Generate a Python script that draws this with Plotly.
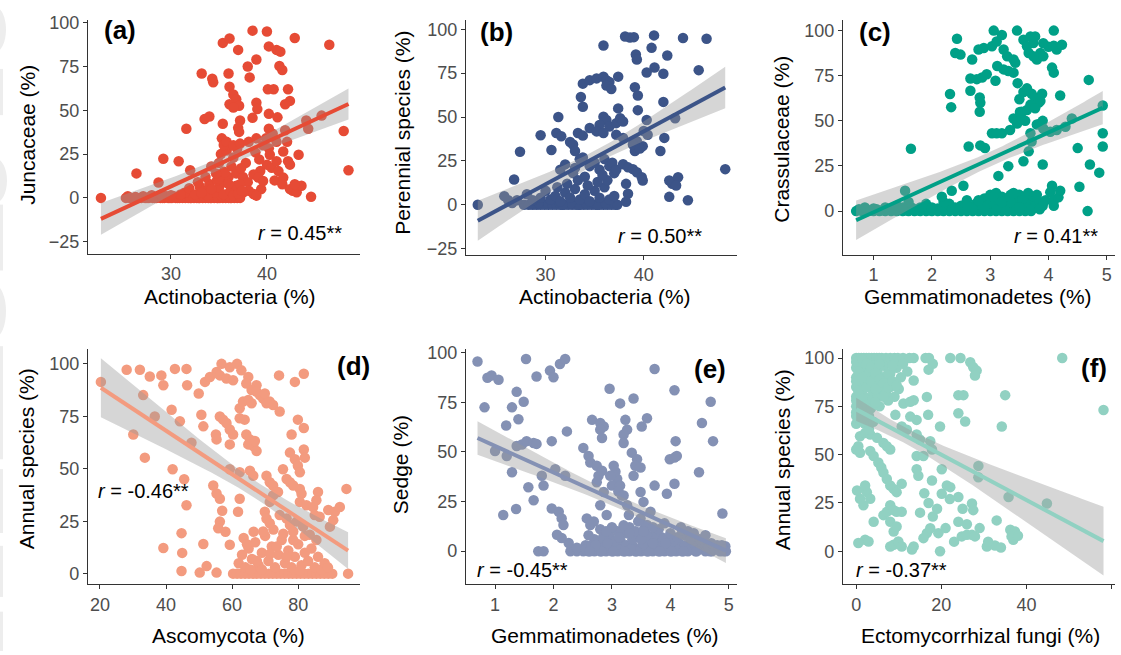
import numpy as np
import plotly.graph_objects as go

# ---------------- data ----------------
# (a) Actinobacteria (%) vs Juncaceae (%)
juncaceae_pts = [
    (22.7, 0), (25.3, 0), (25.7, 0), (26.1, 0), (26.5, 0), (26.9, 0), (27.3, 0), (27.7, 0), (28.1, 0),
    (28.5, 0), (28.9, 0), (29.3, 0), (29.7, 0), (30.1, 0), (30.5, 0), (30.9, 0), (31.2, 0), (31.5, 0),
    (31.8, 0), (32.1, 0), (32.4, 0), (32.7, 0), (33.0, 0), (33.3, 0), (33.6, 0), (33.9, 0), (34.2, 0),
    (34.5, 0), (34.8, 0), (35.1, 0), (35.4, 0), (35.7, 0), (36.0, 0), (36.3, 0), (36.6, 0), (36.9, 0), (37.2, 0),
    (25.5, 1), (26.3, 0.5), (27.1, 1), (27.5, 0), (27.9, 1), (28.3, 0), (28.7, 1), (29.1, 0), (29.5, 1),
    (29.9, 0), (30.3, 1), (30.7, 0), (31.1, 1), (31.6, 1), (32.0, 0), (32.3, 1), (32.9, 0), (33.4, 1),
    (33.7, 2), (34.1, 0), (34.4, 1), (34.9, 0), (35.3, 1), (35.8, 2), (36.2, 0),
    (31.4, 3), (31.9, 5.5), (32.5, 2), (33.0, 6.5), (33.5, 4), (34.0, 8), (34.5, 3), (35.0, 6), (35.5, 2),
    (33.8, 1.5), (34.8, 10), (35.6, 9), (36.2, 4), (31.0, 2), (32.8, 9), (36.8, 7), (37.5, 3), (30.0, 1.5),
    (29.0, 2), (28.0, 1.5), (33.2, 3), (34.2, 5), (36.5, 1.5), (37.0, 2.5),
    (36.0, 12), (35.5, 15), (36.3, 18), (35.0, 20), (35.2, 25), (36.8, 14), (37.5, 12), (37.8, 20),
    (36.5, 23), (35.8, 27), (34.2, 18), (33.6, 12), (35.0, 11), (35.6, 14.5), (36.9, 28), (37.3, 17),
    (34.7, 14), (36.0, 8), (38.0, 9), (39.4, 5), (38.8, 26), (39.2, 22), (39.6, 30), (40.8, 10),
    (33.2, 71), (34.3, 68), (34.4, 66), (33.5, 45), (34.0, 46.5), (35.4, 88.5), (36.1, 91), (37.0, 84.5),
    (38.5, 95.5), (40.0, 95), (40.2, 86.5), (41.0, 84.5), (41.4, 83.5), (42.9, 91.3), (46.5, 87.4),
    (38.9, 79), (38.0, 75), (38.2, 68.8), (36.0, 71), (36.1, 63.5), (36.5, 59), (36.8, 56.3), (37.1, 52.6),
    (36.1, 53.5), (36.5, 51.6), (38.9, 54.4), (39.0, 50.7), (38.5, 45.7), (37.2, 44.2), (37.0, 40),
    (37.1, 37.7), (35.4, 42.3), (35.3, 34), (35.5, 30.2), (35.8, 32), (36.5, 30), (37.2, 31), (38.1, 32),
    (38.9, 34), (40.1, 62), (40.7, 62), (41.3, 75.3), (41.6, 73), (42.2, 62), (42.4, 55.4), (41.9, 53.5),
    (40.2, 48), (41.1, 46), (40.2, 39.5), (40.6, 36.7), (41.0, 32), (39.9, 34), (41.9, 38.6), (42.1, 32),
    (41.7, 26.5), (42.2, 21), (42.4, 19), (43.3, 24.6), (40.2, 28.3), (40.3, 24.6), (40.0, 19), (40.5, 17.2),
    (39.3, 15.3), (38.6, 13.4), (39.1, 11.6), (39.6, 9.7), (41.0, 21), (41.2, 15.3), (41.7, 11.6),
    (41.6, 7.8), (42.4, 5), (42.7, 4.1), (43.1, 3.2), (43.6, 6.9), (42.9, 7.8), (44.6, 0.7), (44.1, 44.2),
    (44.3, 39.5), (45.7, 47), (48.0, 38.2), (48.5, 15.8), (26.4, 14), (29.2, 22.4), (28.7, 8.8),
    (30.8, 20.9), (31.6, 39.5), (32.0, 15.8), (38.1, 4.1), (38.6, 2.2), (38.9, 1.3), (37.2, 7.8), (37.4, 4.1),
]

# (b) Actinobacteria (%) vs Perennial species (%)
perennial_pts = [
    (23.1, 0), (28.7, 0), (29.1, 0), (29.5, 0), (29.9, 0), (30.3, 0), (30.7, 0), (31.1, 0), (31.5, 0),
    (31.9, 0), (32.3, 0), (32.7, 0), (33.1, 0), (33.5, 0), (33.9, 0), (34.3, 0), (34.7, 0), (35.1, 0),
    (35.5, 0), (35.9, 0), (36.3, 0), (36.7, 0), (37.1, 0), (37.3, 0),
    (27.8, 0), (28.3, 0), (26.6, 1), (29.3, 1), (33.4, 0), (34.1, 1), (35.3, 0), (36.1, 1), (32.6, 1), (31.7, 0),
    (30.5, 3), (31.0, 5), (31.5, 2), (32.0, 7), (32.5, 4), (33.0, 9), (33.5, 3), (34.0, 6), (34.5, 2),
    (35.0, 8), (35.5, 4), (36.0, 10), (36.5, 3), (37.0, 5), (31.2, 10), (32.2, 12), (33.3, 14), (34.3, 11),
    (35.3, 13), (36.3, 14), (30.0, 8), (29.5, 4), (28.1, 6), (28.7, 2.6), (26.2, 2.6), (27.1, 2.6),
    (25.8, 4.9), (26.8, 14.4),
    (31.5, 20), (32.0, 23), (32.8, 18), (33.5, 26), (34.5, 22), (35.0, 24), (35.5, 20), (36.0, 26),
    (36.5, 22), (37.0, 18), (34.0, 16), (33.0, 21), (35.8, 17), (36.8, 24), (37.2, 20),
    (27.4, 30.2), (29.5, 39.6), (30.6, 31.2), (31.3, 50), (31.1, 40.9), (31.6, 39), (32.5, 35.8),
    (32.8, 34.3), (33.0, 30.6), (33.3, 40.9), (33.8, 39.4), (33.6, 61.4), (33.8, 55.8), (33.8, 69),
    (34.5, 71), (35.2, 72), (35.9, 73), (36.2, 71), (36.5, 70), (37.4, 73), (36.2, 67.9), (36.7, 66),
    (35.9, 90.7), (38.1, 95.9), (38.6, 95.3), (39.0, 95.5), (39.2, 85.6), (39.3, 82.8), (41.05, 96.5),
    (40.8, 89.4), (41.1, 78.2), (40.3, 75.4), (42.0, 74.6), (42.4, 85), (44.0, 95), (46.4, 94.6),
    (45.6, 76.7), (39.1, 67), (39.4, 62.3), (39.4, 53.9), (37.4, 54.9), (35.9, 50.2), (36.2, 48.3),
    (35.5, 45.5), (36.5, 44.6), (37.2, 46.5), (37.6, 49.3), (37.9, 47.4), (34.5, 43.7), (35.2, 41.8),
    (35.9, 40.9), (37.2, 39.9), (37.9, 38.1), (42.0, 58.6), (42.1, 38.1), (41.7, 30.6), (40.3, 48.3),
    (40.4, 39.9), (39.9, 33.4), (39.1, 30.6), (39.3, 36.2), (38.9, 34.3), (37.9, 23.1), (38.4, 21.3),
    (38.9, 20.3), (39.3, 18.5), (39.8, 15.7), (39.9, 13.8), (38.2, 11.9), (38.4, 6.3), (38.2, 1.7),
    (42.6, 13.8), (42.9, 11.9), (43.5, 15.7), (43.3, 11), (42.6, 4.5), (44.5, 2.6), (48.3, 20.3),
    (43.2, 49.3), (33.5, 25.9), (33.8, 26.9), (40.0, 42), (39.6, 32),
]

# (c) Gemmatimonadetes (%) vs Crassulaceae (%)
crassulaceae_pts = [
    (0.7, 0), (0.8, 0), (0.9, 0), (1.0, 0), (1.1, 0), (1.2, 0), (1.3, 0), (1.4, 0), (1.5, 0), (1.6, 0),
    (1.7, 0), (1.8, 0), (1.9, 0), (2.0, 0), (2.1, 0), (2.2, 0), (2.3, 0), (2.4, 0), (2.5, 0), (2.6, 0),
    (2.7, 0), (2.8, 0), (2.9, 0), (3.0, 0), (3.1, 0), (3.2, 0), (3.3, 0), (3.4, 0), (3.5, 0), (3.6, 0), (3.7, 0),
    (0.75, 1), (0.85, 2), (0.95, 0.5), (1.05, 1), (1.15, 0.5), (1.25, 1), (1.35, 0.5), (1.45, 1),
    (1.55, 0.5), (1.65, 2), (1.75, 0.5), (1.85, 1), (1.95, 0.5), (2.05, 1), (2.15, 0.5), (2.25, 1),
    (1.4, 3), (1.6, 5), (1.8, 2), (1.9, 4), (2.1, 1.5), (2.5, 3), (2.6, 6), (2.75, 4), (2.9, 7), (3.0, 9),
    (3.05, 5), (3.1, 10), (3.15, 3), (3.2, 8), (3.25, 6), (3.3, 4), (3.35, 9), (3.4, 7), (3.45, 5),
    (3.5, 9), (3.55, 3), (3.6, 8), (3.65, 10), (3.7, 6), (3.75, 3), (3.8, 2), (3.0, 2), (2.95, 5),
    (3.35, 1.5), (1.0, 1.5), (1.2, 2),
    (2.2, 2), (2.3, 4), (2.45, 1), (2.65, 2), (2.85, 1), (2.95, 3), (3.05, 1), (3.1, 6), (3.2, 2),
    (3.3, 7), (3.4, 2), (3.5, 5), (3.6, 1.5), (3.7, 3), (3.75, 8), (3.85, 5), (3.6, 4), (3.45, 2),
    (3.25, 1), (3.15, 4), (2.7, 1), (2.55, 1), (2.35, 1), (1.7, 1), (1.5, 2), (3.8, 9), (3.9, 3),
    (3.95, 6), (3.55, 6), (3.65, 2), (3.0, 4), (2.9, 2), (2.8, 6), (3.1, 1), (3.35, 5), (3.5, 2),
    (3.7, 1), (3.85, 1), (2.6, 3), (2.4, 2), (3.2, 5), (3.4, 10), (3.05, 8), (2.2, 5), (2.0, 2),
    (1.54, 11.3), (1.64, 34.5), (2.17, 8), (2.34, 11.3), (2.31, 64.9), (2.33, 57.6), (2.43, 95.5),
    (2.4, 87.6), (2.49, 86.7), (2.54, 14), (2.63, 35.8), (2.66, 66.7), (2.66, 73.5), (2.77, 73.1),
    (2.86, 74), (2.69, 84), (2.8, 89.5), (2.89, 90.4), (2.82, 63), (2.83, 60), (2.82, 55), (2.83, 36.4),
    (2.91, 34.9), (2.94, 75.8), (3.03, 91.3), (3.11, 94), (3.2, 97.6), (3.06, 100), (3.09, 72.2),
    (3.12, 80.4), (3.23, 78.5), (3.31, 77.6), (3.4, 76.7), (3.23, 89.5), (3.29, 85.8), (3.4, 84),
    (3.43, 82.2), (3.14, 19.5), (3.03, 43.1), (3.11, 43.1), (3.2, 43.1), (3.31, 24.9), (3.34, 44.9),
    (3.46, 48.5), (3.4, 51.3), (3.47, 70.9), (3.46, 100), (3.57, 94.9), (3.69, 96.7), (3.63, 91.3),
    (3.74, 93.1), (3.66, 87.6), (3.74, 85.8), (3.8, 84), (3.77, 96.7), (3.91, 93), (4.0, 91),
    (4.09, 91.6), (4.14, 89.5), (4.23, 92.2), (3.86, 87.6), (3.91, 85.8), (4.09, 100), (4.06, 79.5),
    (4.09, 76.7), (4.2, 64), (3.5, 62), (3.57, 66), (3.63, 68), (3.71, 65), (3.77, 63), (3.83, 60),
    (3.69, 59), (3.63, 56), (3.54, 55), (3.77, 57), (3.86, 61), (3.89, 65), (3.51, 54.9), (3.54, 51.3),
    (3.6, 50), (3.57, 27.6), (3.66, 33.1), (3.69, 43.1), (3.71, 38.5), (3.9, 25.8), (3.86, 48.5),
    (3.91, 45.8), (4.03, 44), (4.14, 44.9), (4.29, 46.7), (4.4, 51.3), (4.5, 34.9), (4.71, 25.8),
    (4.53, 13.5), (4.67, 0), (4.69, 72.7), (4.87, 21.3), (4.93, 35.8), (4.93, 43.1), (4.93, 58.5),
    (4.06, 14), (4.03, 10.4), (4.09, 5.8), (4.17, 7.6), (4.2, 11.3), (4.09, 3), (3.9, 50), (3.8, 48),
]

# (d) Ascomycota (%) vs Annual species (%)
annual_asco_pts = [
    (60.3, 0), (61.5, 0), (62.7, 0), (63.9, 0), (65.1, 0), (66.3, 0), (67.5, 0), (68.7, 0), (69.9, 0),
    (71.1, 0), (72.3, 0), (73.5, 0), (74.7, 0), (75.9, 0), (77.1, 0), (78.3, 0), (79.5, 0), (80.7, 0),
    (81.9, 0), (83.1, 0), (84.3, 0), (85.5, 0), (86.7, 0), (87.9, 0), (89.1, 0), (90.3, 0), (95.1, 0),
    (50.2, 0.5), (52.3, 3.6), (55.3, 0.5), (44.7, 1.3),
    (62, 5), (63, 9), (64, 3), (65, 12), (66, 7), (67, 15), (68, 4), (69, 10), (70, 18), (71, 6), (72, 13),
    (73, 3), (74, 9), (75, 16), (76, 5), (77, 11), (78, 3), (79, 8), (80, 14), (81, 4), (82, 10), (83, 6),
    (84, 12), (85, 3), (86, 8), (87, 2), (88, 5), (89, 3), (63.5, 17), (66.5, 20), (72.5, 21), (75.5, 19),
    (78.5, 16), (82, 18), (69, 2), (73.5, 13), (76.5, 8), (80.5, 1.5), (65.5, 2), (64.5, 14), (85.5, 16),
    (71.5, 9.5), (67.5, 6),
    (20.3, 91.4), (28.1, 97.2), (32.1, 97.2), (35.1, 94), (33.1, 85.1), (39.2, 89.8), (38.6, 94.5),
    (42.7, 97.6), (46.2, 97.6), (46.4, 89.8), (49.9, 85.9), (36.6, 74.9), (30.1, 66.3), (33.6, 55.3),
    (41.7, 78.1), (44.2, 72.6), (47.7, 62.4), (42, 49.8), (46.2, 32.6), (44.7, 19.3), (44.9, 9.9),
    (39.2, 12.2), (50.7, 75.7), (51.3, 70.2), (51.3, 14.1), (51.8, 91.4), (53.3, 93.7), (55.3, 96.1),
    (56.8, 100), (59.3, 98.4), (61.5, 100), (62.8, 96.9), (64.9, 93.7), (56.3, 94.5), (58.3, 93),
    (60.3, 92.2), (64.3, 90.6), (67.4, 89.8), (55.1, 66.3), (55.3, 64), (59.3, 61.6), (60.3, 66.3),
    (56.3, 74.9), (57.3, 73.4), (58.3, 71.8), (59.3, 68.7), (62.3, 74.1), (63.8, 73.4), (62.3, 78.8),
    (63.3, 82), (64.9, 82.8), (65.9, 81.2), (65.9, 87.5), (67.4, 86.7), (68.4, 85.1), (69.4, 83.5),
    (70.4, 81.2), (71.4, 82), (72.4, 80.4), (69.9, 85.9), (64.3, 66.3), (65.4, 64), (66.4, 60.8),
    (67.4, 58.5), (64.9, 61.6), (66.9, 63.2), (59.3, 49.8), (62.3, 48.3), (65.4, 49.1), (66.4, 46.7),
    (54.3, 42), (56.3, 35.7), (55.3, 38.2), (62.3, 35.7), (61.8, 29.5), (56.3, 24.8), (55.8, 21.6),
    (59.3, 13.8), (70.4, 46.7), (71.4, 43.6), (72.4, 42), (73.4, 38.9), (69.9, 29.5), (70.4, 26.3),
    (71.4, 24), (69.4, 20.1), (74.4, 77.3), (74.2, 94.5), (79, 91.4), (81.7, 95.3), (78, 66.3),
    (77.5, 57.7), (79.9, 73.4), (81.7, 69.4), (79, 54.5), (79.9, 51.4), (81.7, 59.2), (82, 55.3),
    (80.5, 48.3), (75.4, 49.8), (76.5, 45.1), (77.5, 43.6), (78.5, 42), (80.5, 40.4), (81, 38.1),
    (73.9, 38.9), (72.4, 37.3), (71.4, 34.2), (80.5, 34.2), (82.5, 32.6), (84.5, 31.8), (86, 38.9),
    (85.5, 35), (85, 27.9), (86.5, 27.1), (89.1, 30.3), (91.1, 29.5), (92.6, 31.8), (94.6, 40.4),
    (89.6, 22.4), (90.6, 25.5), (74.4, 27.9), (76.5, 26.3), (77.5, 23.2), (79.5, 24.8), (78.5, 20.1),
    (81.5, 22.4), (83.5, 18.5), (45.5, 45), (57, 30), (58, 20),
]

# (e) Gemmatimonadetes (%) vs Sedge (%)
sedge_pts = [
    (1.74, 0), (1.83, 0), (2.29, 0), (2.4, 0), (2.51, 0), (2.6, 0), (2.7, 0), (2.8, 0), (2.9, 0), (3.0, 0),
    (3.1, 0), (3.2, 0), (3.3, 0), (3.4, 0), (3.5, 0), (3.6, 0), (3.7, 0), (3.8, 0), (3.9, 0), (4.0, 0),
    (4.1, 0), (4.2, 0), (4.3, 0), (4.43, 0), (4.71, 0), (4.91, 0),
    (2.55, 3), (2.7, 6), (2.85, 4), (2.95, 8), (3.05, 2), (3.15, 5), (3.25, 9), (3.35, 3), (3.45, 7),
    (3.55, 4), (3.65, 2), (3.75, 5), (3.85, 3), (3.95, 6), (4.05, 2), (4.15, 4), (4.25, 8), (3.1, 10),
    (3.3, 12), (2.8, 11), (3.55, 11), (4.86, 0.8), (4.94, 2.5), (2.26, 4.1), (2.4, 1.7), (2.14, 6.6),
    (2.06, 8.3),
    (4.95, 0), (4.82, 1), (4.78, 2), (4.88, 3), (4.68, 0), (4.58, 1), (4.52, 2),
    (2.55, 1), (2.65, 3), (2.75, 1), (2.85, 7), (2.95, 2), (3.05, 5), (3.15, 1),
    (3.25, 3), (3.35, 6), (3.45, 1), (3.55, 2), (3.65, 6), (3.75, 1), (3.85, 7), (3.95, 2), (4.05, 5),
    (4.15, 1), (4.25, 3), (4.35, 1), (4.4, 4), (4.5, 1), (4.55, 3), (4.6, 0), (4.65, 2), (4.75, 1),
    (4.8, 3), (4.85, 0), (4.45, 0), (4.35, 6), (4.22, 0), (4.12, 7), (4.02, 0), (3.92, 4), (3.82, 0),
    (3.72, 8), (3.62, 0), (3.52, 3), (3.42, 0), (3.32, 1), (3.22, 0), (3.12, 7), (3.02, 0), (2.92, 4),
    (2.82, 0), (2.72, 3), (2.62, 0), (4.0, 9), (3.8, 11), (3.6, 8),
    (3.4, 10), (3.2, 13), (3.0, 12), (4.3, 10), (4.5, 6), (4.7, 4), (4.9, 1), (4.6, 8), (4.4, 9),
    (4.18, 12), (3.9, 14), (3.5, 6), (3.7, 4), (3.3, 9), (2.9, 10), (2.6, 8),
    (0.70, 95.5), (0.82, 72.4), (0.87, 87.3), (0.94, 88.4), (1.06, 86.3), (1.0, 50.4), (1.2, 47.9),
    (1.14, 18.2), (1.19, 63.3), (1.29, 72.4), (1.37, 80.2), (1.4, 66.4), (1.29, 39.7), (1.36, 21.2),
    (1.37, 52.9), (1.46, 53.7), (1.54, 55.4), (1.66, 54.5), (1.71, 54), (1.49, 75.2), (1.53, 96.7),
    (1.57, 32.2), (1.66, 25.6), (1.71, 87.9), (1.83, 33), (1.8, 38), (1.94, 90.9), (2.0, 87.6),
    (2.11, 94.2), (2.2, 96.7), (1.97, 55.4), (2.03, 41.3), (2.2, 38), (1.97, 21.5), (2.09, 19.8),
    (2.14, 16.5), (2.17, 13.2), (2.23, 60.3), (2.51, 52), (2.6, 47.9), (2.66, 66.1), (2.8, 64.5),
    (2.86, 62.8), (2.63, 44.6), (2.74, 43), (2.77, 38), (2.83, 40.5), (2.8, 61.2), (2.83, 57),
    (2.96, 81.8), (2.74, 34.7), (2.86, 29.8), (2.8, 23.1), (2.57, 16.5), (2.63, 13.2), (2.69, 14.9),
    (2.91, 18.2), (3.09, 36.4), (3.06, 40), (3.03, 43), (2.97, 38), (3.0, 33), (3.14, 33), (3.11, 30),
    (3.17, 28), (3.14, 74.4), (3.23, 66.1), (3.26, 61.2), (3.2, 58.7), (3.37, 76.9), (3.2, 54.5),
    (3.34, 49.6), (3.43, 46.3), (3.4, 43), (3.49, 42.1), (3.37, 38), (3.49, 29.8), (3.51, 62.8),
    (3.6, 66.9), (3.2, 28), (3.26, 23.1), (3.29, 18.2), (3.54, 24.8), (3.66, 19.8), (3.49, 16.5),
    (3.6, 13.2), (3.54, 9.9), (3.73, 91.7), (3.73, 33), (3.94, 28.9), (3.99, 46.3), (4.07, 47.1),
    (4.11, 47.9), (4.07, 81), (4.09, 55.4), (4.07, 33.9), (4.2, 10.7), (4.49, 39.7), (4.54, 64.5),
    (4.69, 75.2), (4.73, 55.4), (4.89, 19), (3.45, 15), (3.7, 12),
]

# (f) Ectomycorrhizal fungi (%) vs Annual species (%)
annual_ecm_pts = [
    (0, 100), (0.6, 100), (1.2, 100), (1.8, 100), (2.4, 100), (3.0, 100), (3.6, 100), (4.2, 100),
    (4.8, 100), (5.4, 100), (6.0, 100), (7.0, 100), (8.0, 100), (9.0, 100), (9.8, 100), (11.0, 100),
    (12.5, 100), (13.5, 100), (16.3, 100), (17.1, 100), (22.1, 100), (24.5, 100), (48.4, 100),
    (26.8, 97.8), (27.5, 95.2), (28.3, 93.5), (27.9, 91), (58.1, 73.1), (35, 80.8), (34.2, 64.6),
    (24, 80.8), (25.2, 80.8), (24, 71.4), (25.6, 67.2), (19.7, 64.6), (16.6, 79.9), (16.9, 70.6),
    (14.2, 68), (12.7, 69.7), (13.5, 88.4), (11.1, 76.5), (12.7, 77.4), (13.5, 78.2), (9.2, 70.6),
    (10.7, 64.6), (11.9, 62.9), (14.2, 60.4), (15, 57.8), (17.4, 57), (17.8, 52.7), (14.2, 49.3),
    (15.8, 49.3), (14.2, 42.5), (14.6, 39.1), (17.8, 36.6), (20.1, 42.5), (20.1, 29.8), (21.3, 34),
    (22.1, 33.2), (24, 28.1), (27.2, 24.7), (27.5, 21.3), (24, 15.3), (24.8, 7.7), (26, 8.5),
    (27.2, 8.5), (27.9, 7.7), (28.7, 44.2), (28.7, 38.3), (35.8, 28.1), (44.8, 24.7), (36.2, 11.1),
    (37.3, 10.2), (36.9, 6), (36.5, 7.7), (30.7, 2.5), (32.6, 3), (19.7, 0), (19.3, 9.4), (16.6, 9.4),
    (15.8, 6.8), (17.4, 11.9), (13.5, 2.5), (13.1, 0.9), (8, 2.5), (8.8, 3.4), (9.9, 5.1), (10.7, 2.5),
    (2.1, 6), (2.9, 5.1), (0.5, 4.3), (4.1, 15.3), (6.4, 18.7), (7.2, 20.4), (8, 15.3), (8.8, 10.2),
    (9.5, 12.8), (1.7, 23.8), (0.9, 27.2), (0.2, 31.5), (2.5, 30.6), (3.3, 27.2), (2.1, 34),
    (3.3, 51.9), (4.1, 49.3), (5.2, 45.9), (5.9, 43.4), (6.4, 40.8), (7.2, 37.4), (8, 34), (8.8, 32.3),
    (9.5, 30.6), (10.7, 34.9), (6.4, 56.1), (7.2, 54.4), (8, 52.7), (0.9, 59.5), (2.1, 61.2),
    (3.3, 60.4), (4.9, 58.7), (0, 52.7), (0.9, 51), (0.5, 54.4), (8, 23.8), (8.8, 21.3), (9.5, 20.4),
    (10.7, 20.4),
    (0, 95), (0, 90), (0, 85), (0, 80), (0, 75), (0, 70), (0, 66), (1, 97), (1, 92), (1, 87), (1, 82),
    (1, 77), (1, 72), (1, 68), (2, 95), (2, 88), (2, 80), (2, 74), (3, 92), (3, 85), (3, 78), (3, 70),
    (4, 96), (4, 89), (4, 82), (5, 93), (5, 86), (5, 80), (6, 90), (6, 84), (7, 88), (7, 82), (8, 85),
    (8, 92), (9, 80), (10, 84), (2, 66), (4, 67), (3, 63), (5.5, 75), (7.5, 78), (6.5, 96), (9.5, 95),
    (11, 97), (12, 93), (17, 94), (18, 97),
    (0, 98), (0, 88), (0, 78), (0, 72), (0.5, 93), (0.5, 83), (0.5, 70), (1.5, 99), (1.5, 90), (1.5, 79),
    (1.5, 69), (2.5, 97), (2.5, 85), (2.5, 76), (3.5, 95), (3.5, 88), (3.5, 74), (4.5, 92), (4.5, 84),
    (4.5, 77), (5.5, 97), (5.5, 89), (6.5, 87), (6.5, 80), (7.5, 92), (7.5, 85), (8.5, 88), (8.5, 96),
    (9.5, 86), (10.5, 90),
    (15, 20), (17, 25), (18, 18), (16, 30), (19, 22), (21, 12), (22, 27), (23, 5), (25, 22), (26, 14),
    (29, 12), (31, 5), (33, 16), (38, 8), (34, 2),
]

panel_tags = ["(a)", "(b)", "(c)", "(d)", "(e)", "(f)"]
r_labels = ["0.45**", "0.50**", "0.41**", "-0.46**", "-0.45**", "-0.37**"]
x_titles = ["Actinobacteria (%)", "Actinobacteria (%)", "Gemmatimonadetes (%)",
            "Ascomycota (%)", "Gemmatimonadetes (%)", "Ectomycorrhizal fungi (%)"]
y_titles = ["Juncaceae (%)", "Perennial species (%)", "Crassulaceae (%)",
            "Annual species (%)", "Sedge (%)", "Annual species (%)"]
x_ticks = [[30, 40], [30, 40], [1, 2, 3, 4, 5], [20, 40, 60, 80], [1, 2, 3, 4, 5], [0, 20, 40, 60]]
y_ticks = [[-25, 0, 25, 50, 75, 100], [-25, 0, 25, 50, 75, 100], [0, 25, 50, 75, 100],
           [0, 25, 50, 75, 100], [0, 25, 50, 75, 100], [0, 25, 50, 75, 100]]
colors = ["#E64B35", "#3C5488", "#00A087", "#F39B7F", "#8491B4", "#91D1C2"]
datasets = [juncaceae_pts, perennial_pts, crassulaceae_pts, annual_asco_pts, sedge_pts, annual_ecm_pts]

# ---------------- layout geometry (pixels) ----------------
W, H = 1121, 655
panel_px = [  # left, right, top, bottom
    (88, 360, 13, 251), (466, 737, 13, 252), (843, 1115, 13, 252),
    (88, 360, 348, 587), (466, 737, 348, 587), (843, 1115, 348, 587),
]
x_ranges = [[21.35, 49.7], [21.9, 49.5], [0.475, 5.14], [16.4, 98.7], [0.503, 5.14], [-3.1, 60.8]]
y_ranges = [[-31.9, 101.7], [-28.5, 105.4], [-24.2, 106], [-5.0, 107], [-16.6, 101.7], [-17, 104.6]]
tag_pos = [(120, 23), (496, 25), (875, 25), (353, 365), (710, 368), (1094, 367)]
r_pos = [(300, 230), (660, 233), (1056, 233), (143, 492), (522, 573), (901, 573)]
xt_pos = [(230, 294), (605, 294), (978, 294), (228, 639), (605, 639), (980, 639)]
yt_pos = [(28, 130), (403, 128), (782, 135), (26, 460), (400, 466), (782, 461)]

FONT = "Arial, Liberation Sans, Helvetica, sans-serif"


def px(x, y):
    return x / W, 1 - y / H


fig = go.Figure()
annotations = []
T_CRIT = 1.97

for i, pts in enumerate(datasets):
    k = "" if i == 0 else str(i + 1)
    xa, ya = "x" + k, "y" + k
    x = np.array([p[0] for p in pts], dtype=float)
    y = np.array([p[1] for p in pts], dtype=float)
    fig.add_trace(go.Scatter(x=x, y=y, mode="markers", xaxis=xa, yaxis=ya,
                             marker=dict(size=10.5, color=colors[i], line=dict(width=0)),
                             hoverinfo="skip", showlegend=False))
    # linear fit with 95% CI (like geom_smooth(method = "lm"))
    n = len(x)
    slope, icpt = np.polyfit(x, y, 1)
    resid = y - (slope * x + icpt)
    s = np.sqrt(np.sum(resid ** 2) / (n - 2))
    xm = x.mean()
    sxx = np.sum((x - xm) ** 2)
    xs = np.linspace(x.min(), x.max(), 80)
    yh = slope * xs + icpt
    se = s * np.sqrt(1.0 / n + (xs - xm) ** 2 / sxx)
    up, lo = yh + T_CRIT * se, yh - T_CRIT * se
    fig.add_trace(go.Scatter(x=np.concatenate([xs, xs[::-1]]), y=np.concatenate([up, lo[::-1]]),
                             fill="toself", fillcolor="rgba(153,153,153,0.4)", line=dict(width=0),
                             mode="lines", xaxis=xa, yaxis=ya, hoverinfo="skip", showlegend=False))
    fig.add_trace(go.Scatter(x=xs, y=yh, mode="lines", line=dict(color=colors[i], width=4),
                             xaxis=xa, yaxis=ya, hoverinfo="skip", showlegend=False))

    l, r, t, b = panel_px[i]
    axis_common = dict(showline=True, linecolor="#333333", linewidth=1.2, ticks="outside",
                       ticklen=4, tickwidth=1.1, tickcolor="#333333", showgrid=False, zeroline=False,
                       tickfont=dict(family=FONT, size=18, color="#4D4D4D"), fixedrange=True)
    fig.layout["xaxis" + k] = dict(axis_common, domain=[l / W, r / W], range=x_ranges[i],
                                   tickvals=x_ticks[i], anchor=ya)
    fig.layout["yaxis" + k] = dict(axis_common, domain=[1 - b / H, 1 - t / H], range=y_ranges[i],
                                   tickvals=y_ticks[i], anchor=xa)

    tx, ty = px(*tag_pos[i])
    annotations.append(dict(x=tx, y=ty, xref="paper", yref="paper", text="<b>" + panel_tags[i] + "</b>",
                            showarrow=False, font=dict(family=FONT, size=26, color="black"),
                            xanchor="center", yanchor="middle"))
    rx, ry = px(*r_pos[i])
    annotations.append(dict(x=rx, y=ry, xref="paper", yref="paper", text="<i>r</i> = " + r_labels[i],
                            showarrow=False, font=dict(family=FONT, size=20, color="black"),
                            xanchor="center", yanchor="middle"))
    xx, xy = px(*xt_pos[i])
    annotations.append(dict(x=xx, y=xy, xref="paper", yref="paper", text=x_titles[i],
                            showarrow=False, font=dict(family=FONT, size=21, color="black"),
                            xanchor="center", yanchor="middle"))
    yx, yy = px(*yt_pos[i])
    annotations.append(dict(x=yx, y=yy, xref="paper", yref="paper", text=y_titles[i], textangle=-90,
                            showarrow=False, font=dict(family=FONT, size=21, color="black"),
                            xanchor="center", yanchor="middle"))

# faint grey scan artefacts along the left edge of the reference image
edge_shapes = []
for (x0, y0, x1, y1, kind) in [(-16, 0, 6, 46, "circle"), (-3, 63, 3, 110, "rect"),
                               (-16, 154, 7, 199, "circle"), (-3, 201, 3, 268, "rect"),
                               (-16, 283, 6, 336, "circle"), (-3, 345, 3, 460, "rect"),
                               (-3, 470, 3, 535, "rect"), (-3, 548, 3, 600, "rect"),
                               (-3, 615, 3, 655, "rect")]:
    ax0, ay1 = px(x0, y0)
    ax1, ay0 = px(x1, y1)
    edge_shapes.append(dict(type=kind, xref="paper", yref="paper", x0=ax0, x1=ax1, y0=ay0, y1=ay1,
                            fillcolor="#EDEDED", line=dict(width=0), layer="below"))

fig.update_layout(width=W, height=H, margin=dict(l=0, r=0, t=0, b=0),
                  plot_bgcolor="rgba(0,0,0,0)", paper_bgcolor="white", showlegend=False,
                  annotations=annotations, shapes=edge_shapes)

fig.write_html("out.html", config={"displayModeBar": False},
               post_script="document.body.style.margin='0px';")
